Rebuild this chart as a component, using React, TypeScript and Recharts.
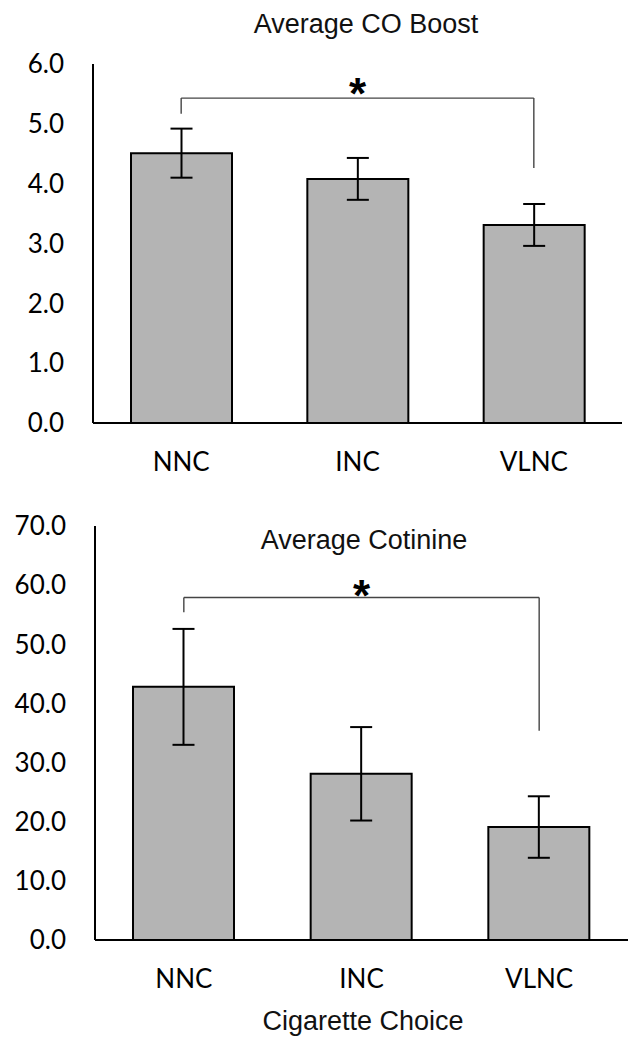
import React from 'react';
import { BarChart, Bar, XAxis, YAxis, ErrorBar, ReferenceLine, ReferenceDot } from 'recharts';

const categories = ['NNC', 'INC', 'VLNC'];

const coBoost = [4.51, 4.08, 3.31];
const coBoostErr = [0.41, 0.35, 0.35];
const coTicks = [0, 1, 2, 3, 4, 5, 6];
// significance bracket: bar height, left leg end, right leg end, star position
const coBracket = [5.43, 5.17, 4.26, 5.68];

const cotinine = [42.8, 28.1, 19.1];
const cotinineErr = [9.8, 7.9, 5.2];
const cotTicks = [0, 10, 20, 30, 40, 50, 60, 70];
const cotBracket = [57.9, 55.4, 35.4, 60.0];

const coData = categories.map((name, i) => ({ name, value: coBoost[i], err: coBoostErr[i] }));
const cotData = categories.map((name, i) => ({ name, value: cotinine[i], err: cotinineErr[i] }));

const tickFont = { fontFamily: 'Lato', fontSize: 26, fill: '#000' };
const titleFont: React.CSSProperties = {
  position: 'absolute',
  fontFamily: '"Liberation Sans", Arial, sans-serif',
  fontSize: 27,
  color: '#111',
  transform: 'translate(-50%, -50%)',
  whiteSpace: 'nowrap',
};

const STAR_SIZE = 44;
const Star = (p: any) => {
  const { x, y } = p.viewBox;
  return (
    <text
      x={x}
      y={y + 0.58 * STAR_SIZE}
      textAnchor="middle"
      fontFamily='"Liberation Sans"'
      fontWeight="bold"
      fontSize={STAR_SIZE}
      fill="#000"
    >
      *
    </text>
  );
};

const Bracket = (b: number[]) => [
  <ReferenceLine key="h" segment={[{ x: 'NNC', y: b[0] }, { x: 'VLNC', y: b[0] }]} stroke="#444" strokeWidth={1.4} ifOverflow="visible" />,
  <ReferenceLine key="l" segment={[{ x: 'NNC', y: b[0] }, { x: 'NNC', y: b[1] }]} stroke="#444" strokeWidth={1.4} ifOverflow="visible" />,
  <ReferenceLine key="r" segment={[{ x: 'VLNC', y: b[0] }, { x: 'VLNC', y: b[2] }]} stroke="#444" strokeWidth={1.4} ifOverflow="visible" />,
  <ReferenceDot key="s" x="INC" y={b[3]} r={0} ifOverflow="visible" label={Star} />,
];

export default function App() {
  return (
    <div style={{ position: 'absolute', left: 0, top: 0, width: 640, height: 1050, background: '#fff' }}>
      <div style={{ position: 'absolute', left: 0, top: 0 }}>
        <BarChart width={640} height={480} data={coData} margin={{ top: 64, right: 18, left: 0, bottom: 0 }}>
          <XAxis
            dataKey="name"
            axisLine={{ stroke: '#000', strokeWidth: 2 }}
            tickLine={false}
            tickSize={0}
            tickMargin={30}
            height={57}
            tick={tickFont}
          />
          <YAxis
            domain={[0, 6]}
            ticks={coTicks}
            tickFormatter={(v: number) => v.toFixed(1)}
            axisLine={{ stroke: '#000', strokeWidth: 2 }}
            tickLine={false}
            tickSize={0}
            tickMargin={29}
            width={93}
            tick={tickFont}
          />
          <Bar dataKey="value" fill="#b4b4b4" stroke="#000" strokeWidth={2} barSize={101} isAnimationActive={false}>
            <ErrorBar dataKey="err" width={11} stroke="#000" strokeWidth={2} direction="y" />
          </Bar>
          {Bracket(coBracket)}
        </BarChart>
      </div>
      <div style={{ ...titleFont, left: 366, top: 23.5 }}>Average CO Boost</div>

      <div style={{ position: 'absolute', left: 0, top: 480 }}>
        <BarChart width={640} height={570} data={cotData} margin={{ top: 46, right: 12, left: 0, bottom: 50 }}>
          <XAxis
            dataKey="name"
            axisLine={{ stroke: '#000', strokeWidth: 2 }}
            tickLine={false}
            tickSize={0}
            tickMargin={30}
            height={60}
            tick={tickFont}
          />
          <YAxis
            domain={[0, 70]}
            ticks={cotTicks}
            tickFormatter={(v: number) => v.toFixed(1)}
            axisLine={{ stroke: '#000', strokeWidth: 2 }}
            tickLine={false}
            tickSize={0}
            tickMargin={29}
            width={95}
            tick={tickFont}
          />
          <Bar dataKey="value" fill="#b4b4b4" stroke="#000" strokeWidth={2} barSize={101} isAnimationActive={false}>
            <ErrorBar dataKey="err" width={11} stroke="#000" strokeWidth={2} direction="y" />
          </Bar>
          {Bracket(cotBracket)}
        </BarChart>
      </div>
      <div style={{ ...titleFont, left: 364, top: 539.5 }}>Average Cotinine</div>
      <div style={{ ...titleFont, left: 363, top: 1021 }}>Cigarette Choice</div>
    </div>
  );
}
